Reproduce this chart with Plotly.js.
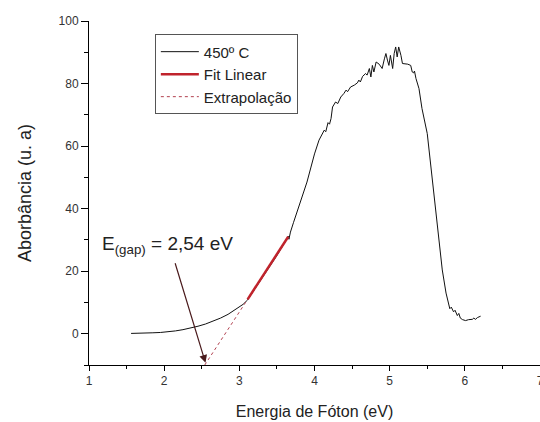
<!DOCTYPE html>
<html>
<head>
<meta charset="utf-8">
<script src="https://cdn.plot.ly/plotly-3.0.1.min.js"></script>
<style>
  html, body { margin: 0; padding: 0; background: #fff; }
  #chart { width: 540px; height: 422px; }
</style>
</head>
<body>
<div id="chart"></div>
<script>
// Photon energy (eV) and absorbance (a.u.) of the 450 ºC sample
var energy = [
  1.56, 1.65, 1.75, 1.85, 1.95, 2.05, 2.15, 2.25, 2.35, 2.45,
  2.55, 2.65, 2.75, 2.85, 2.95, 3.05, 3.11, 3.20, 3.30, 3.40,
  3.50, 3.60, 3.65, 3.66, 3.68, 3.72, 3.77, 3.84, 3.90, 3.95,
  4.00, 4.06, 4.10, 4.13, 4.15, 4.18, 4.20, 4.22, 4.24, 4.28,
  4.31, 4.35, 4.39, 4.42, 4.44, 4.48, 4.53, 4.57, 4.59, 4.61,
  4.64, 4.68, 4.70, 4.73, 4.75, 4.77, 4.79, 4.82, 4.86, 4.90,
  4.93, 4.95, 4.97, 4.99, 5.01, 5.04, 5.06, 5.08, 5.10, 5.12,
  5.15, 5.17, 5.24, 5.28, 5.30, 5.32, 5.33, 5.35, 5.39, 5.43,
  5.50, 5.57, 5.63, 5.70, 5.75, 5.79, 5.80, 5.82, 5.85, 5.87,
  5.90, 5.92, 5.94, 5.97, 6.01, 6.05, 6.10, 6.12, 6.14, 6.17,
  6.21
];
var absorbance = [
  0.1, 0.1, 0.2, 0.3, 0.4, 0.6, 0.9, 1.3, 1.8, 2.4,
  3.1, 4.0, 5.0, 6.2, 7.7, 9.4, 10.8, 14.0, 17.6, 21.3,
  25.0, 29.0, 31.2, 30.2, 32.5, 35.5, 39.2, 43.8, 48.5, 53.0,
  57.5, 61.9, 63.5, 65.1, 64.6, 67.5, 67.0, 68.8, 72.5, 74.1,
  73.6, 75.7, 76.8, 77.9, 77.4, 78.9, 79.5, 80.2, 81.1, 80.5,
  82.3, 83.2, 82.7, 84.8, 82.1, 85.8, 83.7, 86.9, 86.2, 84.8,
  87.9, 89.6, 87.5, 85.8, 89.0, 84.8, 89.6, 91.7, 88.5, 91.7,
  89.0, 86.4, 86.2, 85.8, 83.7, 83.4, 84.0, 81.6, 78.4, 72.0,
  64.0, 49.1, 35.3, 20.4, 13.0, 9.2, 8.0, 8.5, 7.0, 7.5,
  5.8, 6.5, 5.0, 4.5, 4.2, 4.5, 4.6, 5.0, 4.6, 5.2,
  5.6
];
// Linear fit of the absorption edge
var fitX = [3.11, 3.65];
var fitY = [11.0, 31.0];
// Extrapolation of the fit down to the energy axis
var extrapX = [2.54, 3.11];
var extrapY = [-10.0, 11.0];

var seriesNames = ['450º C', 'Fit Linear', 'Extrapolação'];
var xTicks = [1, 2, 3, 4, 5, 6, 7];
var yTicks = [0, 20, 40, 60, 80, 100];

var traces = [
  {
    x: energy, y: absorbance, name: seriesNames[0],
    type: 'scatter', mode: 'lines',
    line: { color: '#111111', width: 1 }
  },
  {
    x: fitX, y: fitY, name: seriesNames[1],
    type: 'scatter', mode: 'lines',
    line: { color: '#c0232c', width: 2.5 }
  },
  {
    x: extrapX, y: extrapY, name: seriesNames[2],
    type: 'scatter', mode: 'lines',
    line: { color: '#b2414f', width: 1, dash: '3px,3px' }
  }
];

var layout = {
  width: 540, height: 422,
  margin: { l: 89, r: 0, t: 21, b: 57 },
  paper_bgcolor: '#ffffff',
  plot_bgcolor: '#ffffff',
  font: { family: 'Liberation Sans, Arial, sans-serif', color: '#222' },
  showlegend: true,
  legend: {
    x: 0.146, y: 0.961, xanchor: 'left', yanchor: 'top',
    bgcolor: '#ffffff', bordercolor: '#555555', borderwidth: 1,
    font: { size: 15, color: '#222' },
    itemwidth: 38,
    tracegroupgap: 0
  },
  xaxis: {
    range: [1, 7],
    tickvals: xTicks,
    ticktext: xTicks.map(String),
    ticklabeloverflow: 'allow',
    showgrid: false, zeroline: false,
    showline: true, linecolor: '#000', linewidth: 1,
    ticks: 'outside', ticklen: 5, tickcolor: '#000',
    tickfont: { size: 12, color: '#333' },
    minor: { ticks: 'outside', ticklen: 3, dtick: 0.5, tickcolor: '#000', showgrid: false },
    title: { text: 'Energia de Fóton (eV)', font: { size: 16, color: '#222' }, standoff: 18 }
  },
  yaxis: {
    range: [-10, 100],
    tickvals: yTicks,
    ticktext: yTicks.map(String),
    showgrid: false, zeroline: false,
    showline: true, linecolor: '#000', linewidth: 1,
    ticks: 'outside', ticklen: 7, tickcolor: '#000',
    tickfont: { size: 12, color: '#333' },
    minor: { ticks: 'outside', ticklen: 4, dtick: 10, tickcolor: '#000', showgrid: false },
    title: { text: 'Aborbância (u. a)', font: { size: 18, color: '#222' }, standoff: 22 }
  },
  annotations: [
    {
      xref: 'x', yref: 'y', x: 1.14, y: 28.3,
      xanchor: 'left', yanchor: 'middle',
      text: 'E<sub>(gap)</sub> = 2,54 eV',
      showarrow: false,
      font: { size: 19, color: '#222' }
    },
    {
      xref: 'x', yref: 'y', x: 2.55, y: -9.3,
      axref: 'x', ayref: 'y', ax: 2.14, ay: 23.0,
      text: '', showarrow: true,
      arrowhead: 2, arrowsize: 1.3, arrowwidth: 1.2,
      arrowcolor: '#4a1a1c'
    }
  ]
};

Plotly.newPlot('chart', traces, layout, { staticPlot: true, displayModeBar: false });
</script>
</body>
</html>
